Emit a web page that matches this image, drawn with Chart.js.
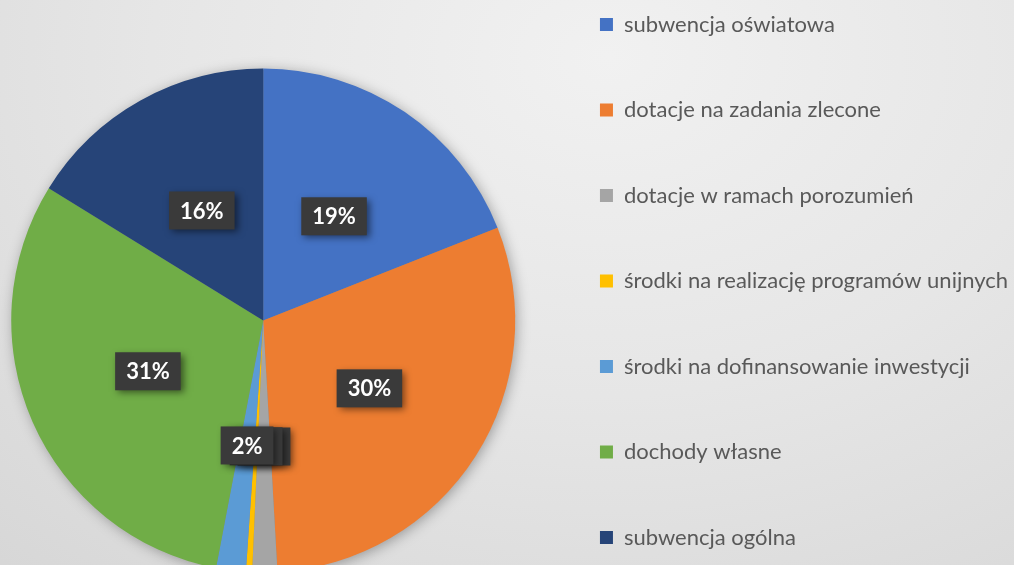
<!DOCTYPE html>
<html>
<head>
<meta charset="utf-8">
<script src="https://cdn.jsdelivr.net/npm/chart.js@4"></script>
<style>
  html, body { margin: 0; padding: 0; width: 1014px; height: 565px; overflow: hidden; }
  body { position: relative; background: radial-gradient(ellipse 90% 120% at 60% 10%, #f1f1f1 0%, #e6e6e6 50%, #d7d7d7 100%); }
  #chart { position: absolute; left: -10px; top: -50px; }
</style>
</head>
<body>
<canvas id="chart" width="1060" height="741"></canvas>
<script>
// struktura dochodów, udział w %
var categories = [
  "subwencja oświatowa",
  "dotacje na zadania zlecone",
  "dotacje w ramach porozumień",
  "środki na realizację programów unijnych",
  "środki na dofinansowanie inwestycji",
  "dochody własne",
  "subwencja ogólna"
];
var shares = [19.0, 30.1, 1.6, 0.4, 1.9, 30.8, 16.2];
var colors = ["#4472C4", "#ED7D31", "#A5A5A5", "#FFC000", "#5B9BD5", "#70AD47", "#264478"];

var legendFont = 22;
var legendPad = 85.5 - legendFont;
var pieAreaWidth = 546;

// soft shadow under the whole pie
const pieShadow = {
  id: "pieShadow",
  beforeDatasetsDraw(chart) {
    const arc = chart.getDatasetMeta(0).data[0];
    if (!arc) return;
    const ctx = chart.ctx;
    ctx.save();
    ctx.shadowColor = "rgba(0,0,0,0.35)";
    ctx.shadowBlur = 14;
    ctx.shadowOffsetX = 2;
    ctx.shadowOffsetY = 2;
    ctx.fillStyle = "#888";
    ctx.beginPath();
    ctx.arc(arc.x, arc.y, arc.outerRadius - 1, 0, Math.PI * 2);
    ctx.fill();
    ctx.restore();
  }
};

// dark percentage boxes like the excel data labels
const pctLabels = {
  id: "pctLabels",
  afterDatasetsDraw(chart) {
    const ctx = chart.ctx;
    const meta = chart.getDatasetMeta(0);
    const total = shares.reduce((a, b) => a + b, 0);
    ctx.save();
    ctx.font = "bold 22px Lato";
    ctx.textAlign = "center";
    ctx.textBaseline = "middle";
    meta.data.forEach((arc, i) => {
      const p = arc.tooltipPosition();
      const txt = Math.round(shares[i] / total * 100) + "%";
      const w = ctx.measureText(txt).width + 22;
      const h = 38;
      ctx.shadowColor = "rgba(0,0,0,0.5)";
      ctx.shadowBlur = 7;
      ctx.shadowOffsetX = 3;
      ctx.shadowOffsetY = 3;
      ctx.fillStyle = "#3a3a3a";
      ctx.fillRect(p.x - w / 2, p.y - h / 2, w, h);
      ctx.shadowColor = "transparent";
      ctx.fillStyle = "#ffffff";
      ctx.fillText(txt, p.x, p.y + 1);
    });
    ctx.restore();
  }
};

const config = {
  type: "pie",
  data: {
    labels: categories,
    datasets: [{
      data: shares,
      backgroundColor: colors,
      borderWidth: 0,
      radius: 252
    }]
  },
  options: {
    responsive: false,
    animation: false,
    plugins: {
      legend: {
        position: "right",
        align: "start",
        labels: {
          boxWidth: 13,
          boxHeight: 13,
          padding: legendPad,
          color: "#595959",
          font: { family: "Lato", size: legendFont, lineHeight: 1 }
        }
      },
      tooltip: { enabled: false }
    }
  },
  plugins: [pieShadow, pctLabels]
};

window.addEventListener("load", function () {
  const canvas = document.getElementById("chart");
  // legend width = what chart.js will ask for, so the pie area keeps its width
  const m = document.createElement("canvas").getContext("2d");
  m.font = legendFont + "px Lato";
  const tw = Math.max(...categories.map(c => m.measureText(c).width));
  const legendW = Math.ceil(legendPad + 13 + legendFont / 2 + tw + 10);
  canvas.width = pieAreaWidth + legendW;
  new Chart(canvas, config);
});
</script>
</body>
</html>
